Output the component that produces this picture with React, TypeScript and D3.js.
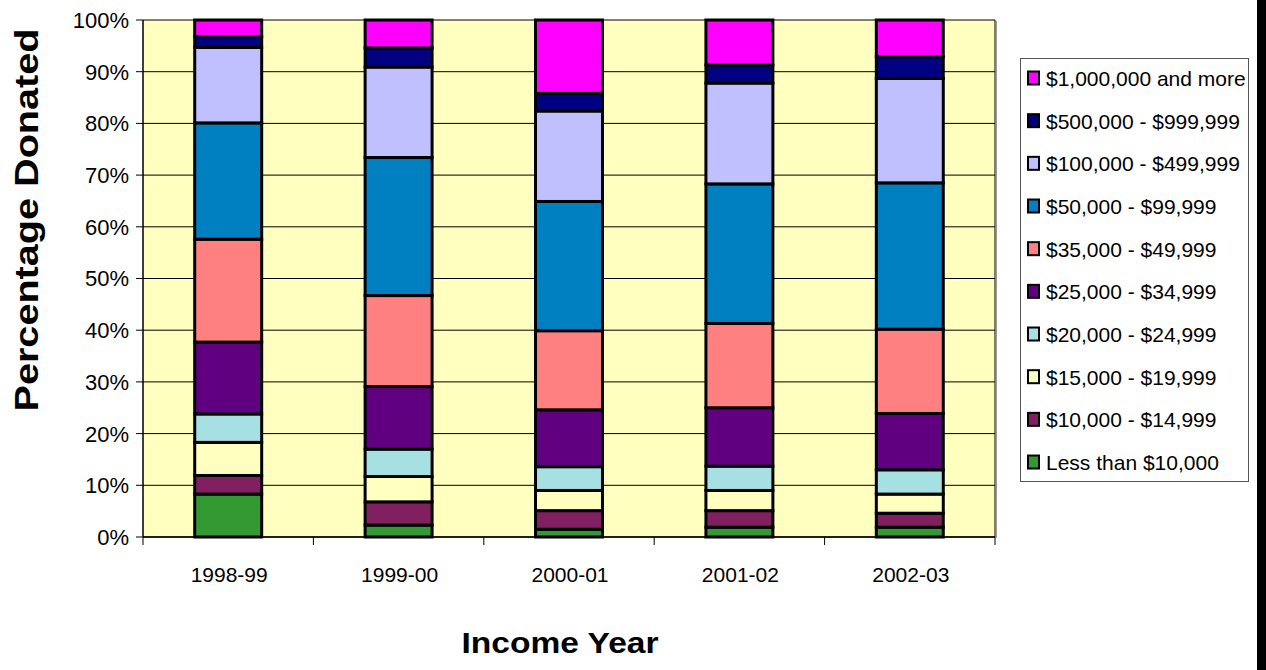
import React from "react";
import * as d3 from "d3";

const categories = ["1998-99", "1999-00", "2000-01", "2001-02", "2002-03"];
const seriesNames = [
  "Less than $10,000",
  "$10,000 - $14,999",
  "$15,000 - $19,999",
  "$20,000 - $24,999",
  "$25,000 - $34,999",
  "$35,000 - $49,999",
  "$50,000 - $99,999",
  "$100,000 - $499,999",
  "$500,000 - $999,999",
  "$1,000,000 and more",
];
const lessThan10k = [8.3, 2.3, 1.5, 1.9, 1.9];
const from10k = [3.6, 4.5, 3.6, 3.2, 2.7];
const from15k = [6.4, 4.9, 3.9, 3.9, 3.7];
const from20k = [5.5, 5.3, 4.6, 4.7, 4.7];
const from25k = [13.9, 12.1, 11.0, 11.3, 10.9];
const from35k = [19.9, 17.6, 15.3, 16.3, 16.3];
const from50k = [22.5, 26.7, 25.0, 27.0, 28.3];
const from100k = [14.6, 17.5, 17.5, 19.5, 20.2];
const from500k = [2.1, 3.7, 3.4, 3.5, 4.2];
const million = [3.2, 5.4, 14.2, 8.7, 7.1];
const seriesValues = [lessThan10k, from10k, from15k, from20k, from25k, from35k, from50k, from100k, from500k, million];
const colors = ["#339933", "#802060", "#FFFFC0", "#A6E0E3", "#600080", "#FF8080", "#0080C0", "#C0C0FF", "#000080", "#FF00FF"];
const yTicks = [0, 0.1, 0.2, 0.3, 0.4, 0.5, 0.6, 0.7, 0.8, 0.9, 1];

export default function App() {
  const left = 143, right = 995, top = 20, bottom = 537;
  const x = d3.scaleBand<string>().domain(categories).range([left, right]).paddingInner(0.607).paddingOuter(0.3035);
  const y = d3.scaleLinear().domain([0, 1]).range([bottom, top]);
  const step = x.step();
  const table = categories.map((c, i) => {
    const row: any = { cat: c };
    seriesNames.forEach((s, j) => (row[s] = seriesValues[j][i]));
    return row;
  });
  const stacked = d3.stack<any>().keys(seriesNames).offset(d3.stackOffsetExpand)(table);
  const fmt = d3.format(".0%");
  const font = "'Liberation Sans', Arial, sans-serif";
  const legendOrder = seriesNames.map((_, i) => seriesNames.length - 1 - i);

  return (
    <svg width={1266} height={670} style={{ position: "absolute", left: 0, top: 0, background: "#fff" }} fontFamily={font}>
      <rect x={left} y={top} width={right - left} height={bottom - top} fill="#FFFFC0" />
      {yTicks.map((t) => (
        <line key={"g" + t} x1={left} x2={right} y1={y(t)} y2={y(t)} stroke="#000" strokeWidth={1} />
      ))}
      <line x1={right} x2={right} y1={top} y2={bottom} stroke="#000" strokeWidth={1} />
      <line x1={right + 1.5} x2={right + 1.5} y1={top + 1} y2={bottom + 1} stroke="#999" strokeWidth={1} />
      {stacked.map((s, j) => (
        <g key={s.key}>
          {s.map((d, i) => (
            <rect
              key={i}
              x={x(categories[i])!}
              y={y(d[1])}
              width={x.bandwidth()}
              height={y(d[0]) - y(d[1])}
              fill={colors[j]}
              stroke="#000"
              strokeWidth={3}
            />
          ))}
        </g>
      ))}
      <line x1={left} x2={left} y1={top} y2={bottom} stroke="#000" strokeWidth={1.5} />
      <line x1={left} x2={right} y1={bottom} y2={bottom} stroke="#000" strokeWidth={1.5} />
      {yTicks.map((t) => (
        <g key={"t" + t}>
          <line x1={left - 7} x2={left} y1={y(t)} y2={y(t)} stroke="#000" strokeWidth={1} />
          <text x={129} y={y(t)} dy="0.36em" textAnchor="end" fontSize={22} fill="#000">
            {fmt(t)}
          </text>
        </g>
      ))}
      {d3.range(categories.length + 1).map((i) => (
        <line key={"xt" + i} x1={left + i * step} x2={left + i * step} y1={bottom} y2={bottom + 8} stroke="#000" strokeWidth={1} />
      ))}
      {categories.map((c) => (
        <text key={c} x={x(c)! + x.bandwidth() / 2 + 1} y={582} textAnchor="middle" fontSize={21} fill="#000">
          {c}
        </text>
      ))}
      <text x={560} y={653} textAnchor="middle" fontSize={30} fontWeight="bold" textLength={197} lengthAdjust="spacingAndGlyphs">
        Income Year
      </text>
      <text
        transform="translate(38,220) rotate(-90)"
        textAnchor="middle"
        fontSize={33}
        fontWeight="bold"
        textLength={383}
        lengthAdjust="spacingAndGlyphs"
      >
        Percentage Donated
      </text>
      <rect x={1020.5} y={58.5} width={228} height={423} fill="#fff" stroke="#555" strokeWidth={1} />
      {legendOrder.map((j, k) => {
        const cy = 78 + k * 42.67;
        return (
          <g key={"l" + j}>
            <rect x={1028} y={cy - 6.5} width={11} height={13} fill={colors[j]} stroke="#000" strokeWidth={2} />
            <text x={1046} y={cy + 8} fontSize={21} fill="#000">
              {seriesNames[j]}
            </text>
          </g>
        );
      })}
      <rect x={1257} y={0} width={9} height={670} fill="#000" />
    </svg>
  );
}
